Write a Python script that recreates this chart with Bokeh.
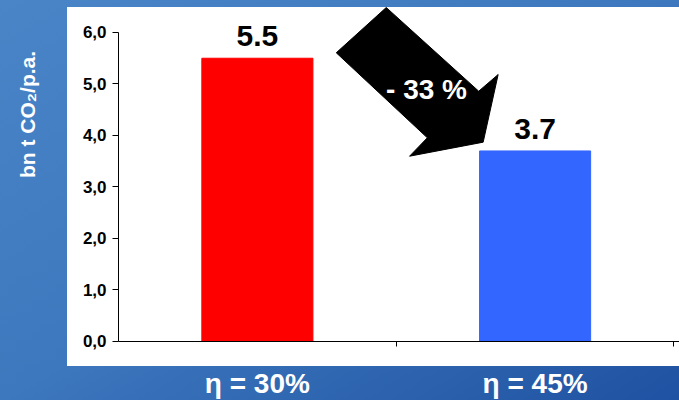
from math import pi

from bokeh.core.properties import value
from bokeh.embed import file_html
from bokeh.models import ColumnDataSource, FixedTicker, Label, LabelSet, Range1d
from bokeh.plotting import figure
from bokeh.resources import INLINE

# --- data -------------------------------------------------------------
efficiency_labels = ["η = 30%", "η = 45%"]
emissions = [5.5, 3.7]                      # bn t CO2 per annum
bar_colors = ["#FF0000", "#3366FF"]
y_ticks = [0, 1, 2, 3, 4, 5, 6]
y_tick_labels = ["0,0", "1,0", "2,0", "3,0", "4,0", "5,0", "6,0"]
y_title = "bn t CO₂/p.a."

FONT = "Liberation Sans"

positions = [i + 0.5 for i in range(len(emissions))]
change = (emissions[1] - emissions[0]) / emissions[0] * 100
change_label = f"- {abs(round(change))} %"

source = ColumnDataSource(dict(
    x=positions,
    top=emissions,
    color=bar_colors,
    label=[f"{v:.1f}" for v in emissions],
))

# --- figure -----------------------------------------------------------
# The frame covers the whole canvas; both axes are pinned at 0 so the
# margins (unit title, category names) stay inside the frame.
p = figure(
    width=679, height=400,
    output_backend="svg", toolbar_location=None,
    x_range=Range1d(-0.425, 2.02), y_range=Range1d(-1.1456, 6.621),
    min_border=0,
    border_fill_color=None, background_fill_color=None,
    outline_line_color=None,
)
# blue gradient backdrop with a white chart panel on top of it
p.styles = {
    "background": (
        "linear-gradient(#ffffff, #ffffff) 67px 7px / 612px 359px no-repeat, "
        "linear-gradient(to bottom right, #4a85c8 0%, #3d77bd 50%, #1f52a2 100%)"
    )
}

p.xgrid.grid_line_color = None
p.ygrid.grid_line_color = None

# bars and their value labels
p.vbar(x="x", top="top", width=0.4, color="color", source=source)
p.add_layout(LabelSet(
    x="x", y="top", text="label", source=source,
    text_align="center", text_baseline="alphabetic", y_offset=12,
    text_font=value(FONT), text_font_style="bold", text_font_size="30px",
    text_color="black",
))

# downward arrow between the two bars
arrow_x = [0.964, 0.784, 1.112, 1.048, 1.313, 1.367, 1.297]
arrow_y = [6.485, 5.606, 3.955, 3.598, 3.870, 5.184, 4.860]
p.patch(arrow_x, arrow_y, fill_color="black", line_color="black")
p.text(
    x=[1.109], y=[4.893], text=[change_label],
    text_align="center", text_baseline="middle",
    text_font=value(FONT), text_font_style="bold", text_font_size="28px",
    text_color="white",
)

# y axis, pinned at x = 0
yax = p.yaxis[0]
yax.fixed_location = 0
yax.ticker = FixedTicker(ticks=y_ticks, minor_ticks=[])
yax.major_label_overrides = dict(zip(y_ticks, y_tick_labels))
yax.bounds = (0, 6)
yax.axis_line_color = "black"
yax.major_tick_line_color = "black"
yax.major_tick_out = 6
yax.major_tick_in = 0
yax.minor_tick_line_color = None
yax.major_label_standoff = 6
yax.major_label_text_font = FONT
yax.major_label_text_font_style = "bold"
yax.major_label_text_font_size = "17px"
yax.major_label_text_color = "black"

# unit title in the left margin
p.add_layout(Label(
    x=-0.328, y=4.408, text=y_title, angle=pi / 2,
    text_align="center", text_baseline="middle",
    text_font=FONT, text_font_style="bold", text_font_size="21px",
    text_color="white",
))

# x axis, pinned at y = 0: category names centred, separators between them
xax = p.xaxis[0]
xax.fixed_location = 0
xax.bounds = (0, 2.02)
xax.ticker = FixedTicker(ticks=positions, minor_ticks=[1, 2])
xax.major_label_overrides = dict(zip(positions, efficiency_labels))
xax.axis_line_color = "black"
xax.major_tick_line_color = None
xax.minor_tick_line_color = "black"
xax.minor_tick_out = 5
xax.minor_tick_in = 0
xax.major_label_standoff = 21
xax.major_label_text_font = FONT
xax.major_label_text_font_style = "bold"
xax.major_label_text_font_size = "28px"
xax.major_label_text_color = "white"

open("out.html", "w").write(file_html(p, INLINE))
